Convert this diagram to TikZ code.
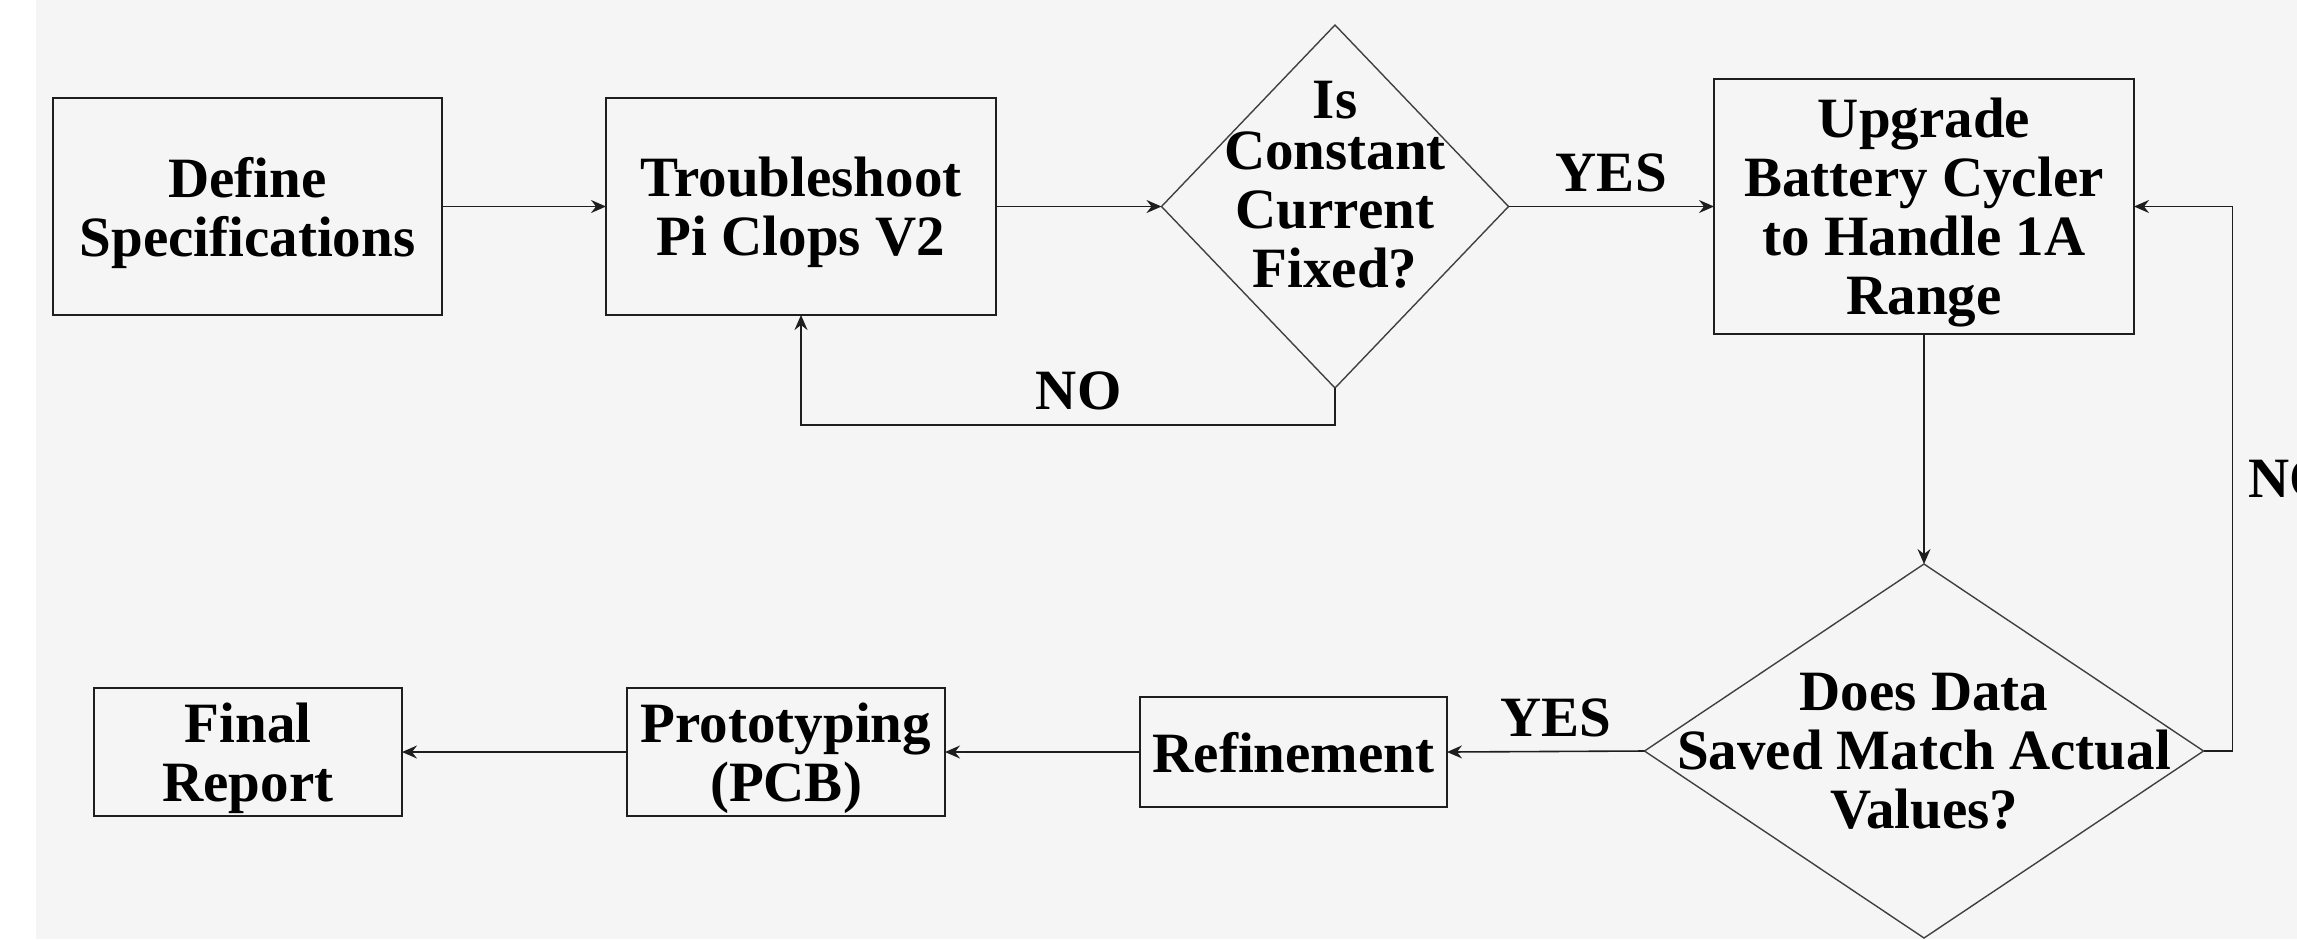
\documentclass[tikz,border=0pt]{standalone}
\usepackage{fontspec}
\setmainfont{Liberation Serif}
\usetikzlibrary{shapes.geometric,arrows.meta,calc}
\definecolor{canvas}{HTML}{F5F5F5}
\definecolor{ink}{HTML}{1E1E1E}
\begin{document}
\begin{tikzpicture}[x=0.5pt,y=-0.5pt,
  every node/.style={font=\fontsize{28.5}{29.5}\selectfont\bfseries, text=black},
  box/.style={draw=ink, line width=1pt, fill=canvas, align=center, inner sep=0pt, outer sep=0pt, text depth=0pt},
  decision/.style={diamond, draw=ink!85, line width=0.7pt, fill=canvas, inner sep=0pt, outer sep=0pt},
  arr/.style={draw=ink, line width=0.8pt, -{Stealth[length=7.5pt,width=6.5pt,inset=2.5pt]}},
  tag/.style={inner sep=0pt, align=center}]

\useasboundingbox (0,0) rectangle (2297,939);
\fill[white] (0,0) rectangle (2297,939);
\fill[canvas] (36,0) rectangle (2297,939);
\clip (0,0) rectangle (2297,939);

% top row
\node[box, minimum width=194.5pt, minimum height=108.5pt] (def) at (247.5,206.5) {Define\\Specifications};
\node[box, minimum width=195pt, minimum height=108.5pt] (trb) at (801,206.5) {Troubleshoot\\Pi Clops V2};
\node[decision, minimum width=173.5pt, minimum height=181.5pt,
      label={[tag, yshift=11pt]center:Is\\[-4pt]Constant\\Current\\Fixed?}] (dia1) at (1335,206.5) {};
\node[box, minimum width=210pt, minimum height=127.5pt] (upg) at (1924,206.5) {Upgrade\\Battery Cycler\\to Handle 1A\\Range};

% bottom row
\node[decision, minimum width=279.5pt, minimum height=187pt,
      label={[tag]center:Does Data\\Saved Match Actual\\Values?}] (dia2) at (1924,751) {};
\node[box, minimum width=153.5pt, minimum height=55pt] (ref) at (1293.5,752) {Refinement};
\node[box, minimum width=159pt, minimum height=64pt] (pro) at (786,752) {Prototyping\\(PCB)};
\node[box, minimum width=154pt, minimum height=64pt] (fin) at (248,752) {Final\\Report};

% connectors
\draw[arr] (def.east) -- (trb.west);
\draw[arr] (trb.east) -- (dia1.west);
\draw[arr] (dia1.east) -- node[tag, pos=0.5, yshift=17pt]{YES} (upg.west);
\draw[arr] (dia1.south) -- ++(0,37) -| node[tag, pos=0.24, yshift=17pt]{NO} (trb.south);
\draw[arr] (upg.south) -- (dia2.north);
\draw[arr] (dia2.west) -- node[tag, pos=0.45, yshift=17pt]{YES} (ref.east);
\draw[arr] (ref.west) -- (pro.east);
\draw[arr] (pro.west) -- (fin.east);
\draw[arr] (dia2.east) -- ++(29,0) |- node[tag, pos=0.25, anchor=west, xshift=7.5pt]{NO} (upg.east);
\end{tikzpicture}
\end{document}
